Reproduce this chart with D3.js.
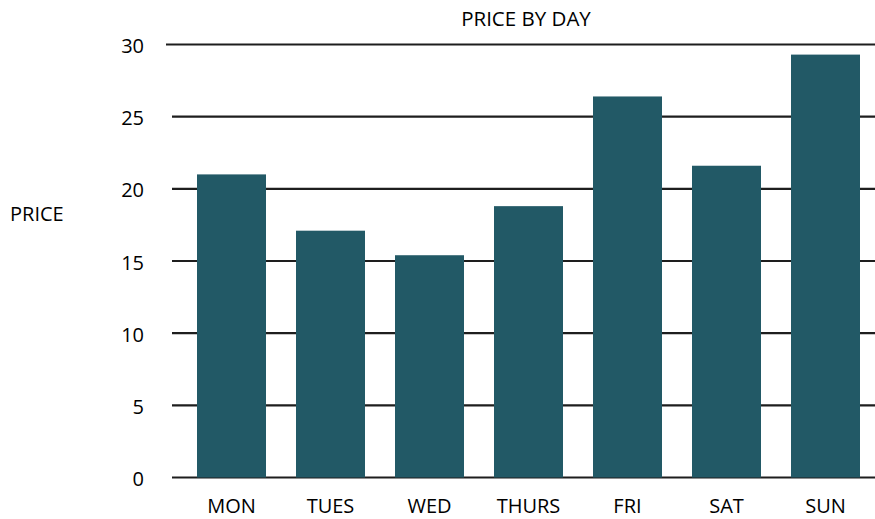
<!DOCTYPE html>
<html>
<head>
<meta charset="utf-8">
<script src="https://cdn.jsdelivr.net/npm/d3@7"></script>
<style>
  body { margin: 0; background: #fff; }
  text { font-family: "Open Sans", sans-serif; fill: #000; }
</style>
</head>
<body>
<svg width="875" height="519"></svg>
<script>
// data
var days = ["MON", "TUES", "WED", "THURS", "FRI", "SAT", "SUN"];
var prices = [21.0, 17.1, 15.4, 18.8, 26.4, 21.6, 29.3];
var yTicks = [0, 5, 10, 15, 20, 25, 30];

var svg = d3.select("svg");

var x = d3.scaleBand()
    .domain(days)
    .range([182, 875])
    .paddingInner(0.303)
    .paddingOuter(0.1515);

var y = d3.scaleLinear()
    .domain([0, 30])
    .range([477.5, 44.5]);

// gridlines
svg.append("g")
    .attr("class", "grid")
  .selectAll("line")
  .data(yTicks)
  .enter().append("line")
    .attr("x1", function(d) { return d == 30 ? 166 : 172; })
    .attr("x2", 875)
    .attr("y1", function(d) { return y(d); })
    .attr("y2", function(d) { return y(d); })
    .attr("stroke", "#1e1e1e")
    .attr("stroke-width", 2.2);

// tick labels
svg.append("g")
    .attr("class", "ylabels")
  .selectAll("text")
  .data(yTicks)
  .enter().append("text")
    .attr("x", 144)
    .attr("y", function(d) { return y(d) + 8.5; })
    .attr("text-anchor", "end")
    .attr("font-size", 20)
    .text(function(d) { return d; });

// bars
svg.append("g")
    .attr("class", "bars")
  .selectAll("rect")
  .data(prices)
  .enter().append("rect")
    .attr("x", function(d, i) { return x(days[i]); })
    .attr("width", x.bandwidth())
    .attr("y", function(d) { return y(d); })
    .attr("height", function(d) { return y(0) - y(d); })
    .attr("fill", "#225966");

// x labels
svg.append("g")
    .attr("class", "xlabels")
  .selectAll("text")
  .data(days)
  .enter().append("text")
    .attr("x", function(d) { return x(d) + x.bandwidth() / 2; })
    .attr("y", 513)
    .attr("text-anchor", "middle")
    .attr("font-size", 20)
    .text(function(d) { return d; });

// title
svg.append("text")
    .attr("x", 526)
    .attr("y", 26)
    .attr("text-anchor", "middle")
    .attr("font-size", 20.5)
    .text("PRICE BY DAY");

// axis title
svg.append("text")
    .attr("x", 10)
    .attr("y", 221)
    .attr("font-size", 20)
    .text("PRICE");
</script>
</body>
</html>
